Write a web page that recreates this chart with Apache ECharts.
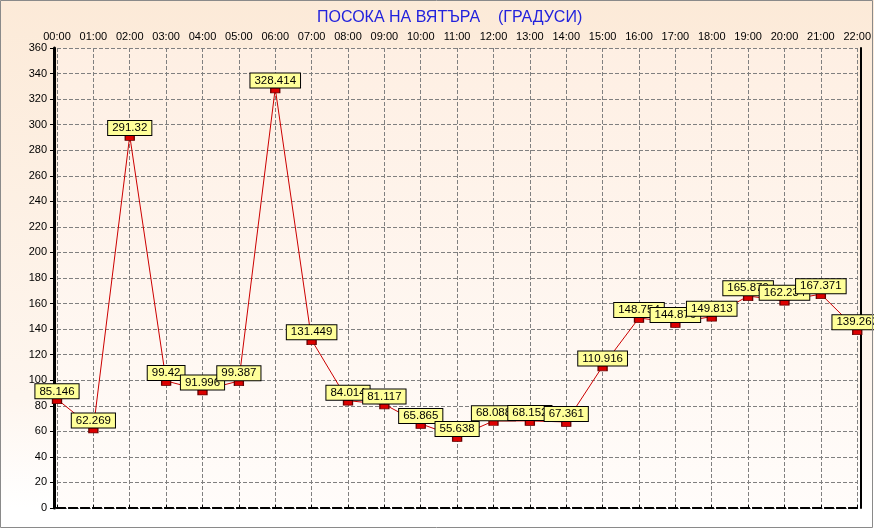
<!DOCTYPE html>
<html><head><meta charset="utf-8">
<script src="https://cdn.jsdelivr.net/npm/echarts@6/dist/echarts.min.js"></script>
<style>html,body{margin:0;padding:0;}#c{width:874px;height:529px;}</style>
</head><body><div id="c"></div>
<script>
const titleText = 'ПОСОКА НА ВЯТЪРА    (ГРАДУСИ)';
const hours = ['00:00','01:00','02:00','03:00','04:00','05:00','06:00','07:00','08:00','09:00','10:00','11:00','12:00','13:00','14:00','15:00','16:00','17:00','18:00','19:00','20:00','21:00','22:00'];
const direction = [85.146,62.269,291.32,99.42,91.996,99.387,328.414,131.449,84.014,81.117,65.865,55.638,68.088,68.152,67.361,110.916,148.754,144.876,149.813,165.879,162.234,167.371,139.263];
const yMin = 0, yMax = 360, yStep = 20;

const chart = echarts.init(document.getElementById('c'));
const font = 'Liberation Sans, Arial, sans-serif';
chart.setOption({
  animation: false,
  backgroundColor: new echarts.graphic.LinearGradient(0,0,0,1,[{offset:0,color:'#FCEAD8'},{offset:0.75,color:'#FEF6EF'},{offset:0.96,color:'#FFFFFF'},{offset:1,color:'#FFFFFF'}]),
  graphic: [
    {type:'rect', z:100, silent:true, shape:{x:0.5, y:0.5, width:872, height:527}, style:{fill:'none', stroke:'#8A8A8A', lineWidth:1}}
  ],
  title: {text: titleText, left: 312, top: 5, textStyle: {color:'#2222DD', fontSize:16, fontWeight:'normal', fontFamily:font}},
  grid: {left: 57, right: 12, top: 48, bottom: 21, show: true, borderWidth: 0,
    backgroundColor: new echarts.graphic.LinearGradient(0,0,0,1,[{offset:0,color:'#FEEFE3'},{offset:1,color:'#FFFCFA'}])},
  xAxis: [{
    type:'category', data: hours, boundaryGap:false, position:'top',
    axisLine:{lineStyle:{color:'#000', width:2, type:'dashed'}},
    axisTick:{show:true, length:3, lineStyle:{color:'#000'}},
    axisLabel:{color:'#000', fontSize:11, fontFamily:font, margin:6, interval:0},
    splitLine:{show:true, lineStyle:{color:'#808080', type:'dashed', width:1}}
  },{
    type:'category', data: hours, boundaryGap:false, position:'bottom',
    axisLine:{lineStyle:{color:'#000', width:2, type:'dashed'}},
    axisTick:{show:false}, axisLabel:{show:false}, splitLine:{show:false}
  }],
  yAxis: [{
    type:'value', min:yMin, max:yMax, interval:yStep, offset:3,
    axisLine:{show:true, lineStyle:{color:'#000', width:3}},
    axisTick:{show:true, length:4, lineStyle:{color:'#000'}},
    axisLabel:{color:'#000', fontSize:11, fontFamily:font, margin:7},
    splitLine:{show:true, lineStyle:{color:'#808080', type:'dashed', width:1}}
  },{
    type:'value', min:yMin, max:yMax, interval:yStep, position:'right', offset:4,
    axisLine:{show:true, lineStyle:{color:'#000', width:2}},
    axisTick:{show:false}, axisLabel:{show:false}, splitLine:{show:false}
  }],
  series: [{
    type:'line', data: direction, xAxisIndex:0, yAxisIndex:0,
    symbol:'rect', symbolSize:[9,5], symbolOffset:[0,2], showAllSymbol:true,
    itemStyle:{color:'#DD0000', borderColor:'#660000', borderWidth:1},
    lineStyle:{color:'#CC0000', width:1},
    label:{show:true, position:'top', distance:0, color:'#000', fontSize:11.5, fontFamily:font,
      backgroundColor:'#FFFF99', borderColor:'#000', borderWidth:1, padding:[1,4,1,4],
      formatter: p => String(p.value)},
    labelLayout:{hideOverlap:false}
  }]
});
</script></body></html>
